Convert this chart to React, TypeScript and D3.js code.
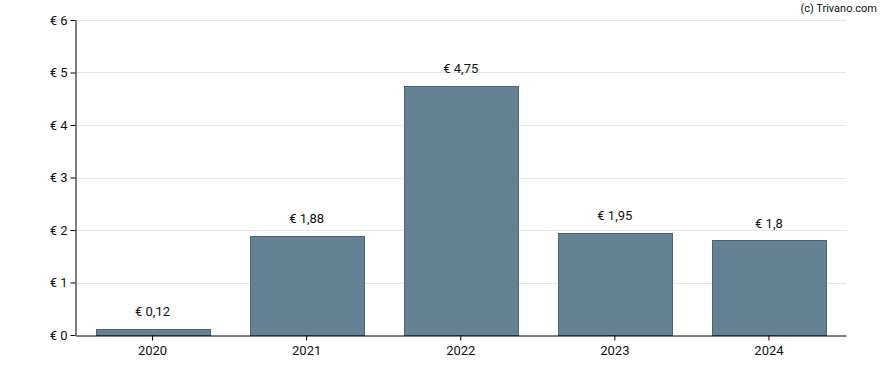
import { useEffect, useRef } from 'react';
import * as d3 from 'd3';

const years = ['2020', '2021', '2022', '2023', '2024'];
const values = [0.12, 1.88, 4.75, 1.95, 1.8];
const valueLabels = ['€ 0,12', '€ 1,88', '€ 4,75', '€ 1,95', '€ 1,8'];
const yTicks = [0, 1, 2, 3, 4, 5, 6];

const App = () => {
  const svgRef = useRef<SVGSVGElement>(null);

  useEffect(() => {
    document.body.style.margin = '0';

    const width = 888;
    const height = 370;
    const margin = { top: 20, right: 42, bottom: 35, left: 75.5 };
    const font = 'Roboto, "Noto Sans", sans-serif';

    const svg = d3.select(svgRef.current)
      .attr('width', width)
      .attr('height', height)
      .style('display', 'block')
      .style('background-color', '#ffffff');

    svg.selectAll('*').remove();

    const xScale = d3.scaleBand()
      .domain(years)
      .range([margin.left, width - margin.right])
      .paddingInner(0.26)
      .paddingOuter(0.13);

    const yScale = d3.scaleLinear()
      .domain([0, 6])
      .range([height - margin.bottom, margin.top]);

    // Gridlines
    svg.append('g')
      .selectAll('line')
      .data(yTicks.filter(d => d > 0))
      .enter()
      .append('line')
      .attr('x1', margin.left)
      .attr('x2', width - margin.right)
      .attr('y1', d => Math.round(yScale(d)) + 0.5)
      .attr('y2', d => Math.round(yScale(d)) + 0.5)
      .attr('stroke', '#e6e6e6')
      .attr('stroke-width', 1);

    // Bars
    svg.selectAll('.bar')
      .data(values)
      .enter()
      .append('rect')
      .attr('class', 'bar')
      .attr('x', (d, i) => Math.round(xScale(years[i])!) + 0.5)
      .attr('y', d => Math.round(yScale(d)) + 0.5)
      .attr('width', Math.round(xScale.bandwidth()))
      .attr('height', d => Math.round(yScale(0)) - Math.round(yScale(d)))
      .attr('fill', '#658294')
      .attr('stroke', '#4b6577')
      .attr('stroke-width', 1);

    // Value labels
    svg.selectAll('.label')
      .data(values)
      .enter()
      .append('text')
      .attr('class', 'label')
      .attr('x', (d, i) => xScale(years[i])! + xScale.bandwidth() / 2)
      .attr('y', d => yScale(d) - 13)
      .attr('text-anchor', 'middle')
      .style('font-family', font)
      .style('font-size', '13px')
      .attr('fill', '#111')
      .text((d, i) => valueLabels[i]);

    // X axis
    const xAxis = svg.append('g')
      .attr('transform', `translate(0, ${Math.round(yScale(0)) + 0.5})`)
      .call(d3.axisBottom(xScale).tickSize(5).tickSizeOuter(0));
    xAxis.select('.domain').attr('stroke', '#000');
    xAxis.selectAll('text')
      .style('font-family', font)
      .style('font-size', '13px')
      .attr('fill', '#111')
      .attr('dy', '0.85em');

    // Y axis
    const yAxis = svg.append('g')
      .attr('transform', `translate(${margin.left}, 0)`)
      .call(d3.axisLeft(yScale).tickValues(yTicks).tickSize(5).tickSizeOuter(0).tickFormat(d => `€ ${d}`));
    yAxis.select('.domain').attr('stroke', '#000');
    yAxis.selectAll('text')
      .style('font-family', font)
      .style('font-size', '13px')
      .attr('fill', '#111');

    // Credit
    svg.append('text')
      .attr('x', 877)
      .attr('y', 12)
      .attr('text-anchor', 'end')
      .style('font-family', font)
      .style('font-size', '11px')
      .attr('fill', '#111')
      .text('(c) Trivano.com');
  }, []);

  return <svg ref={svgRef}></svg>;
};

export default App;
